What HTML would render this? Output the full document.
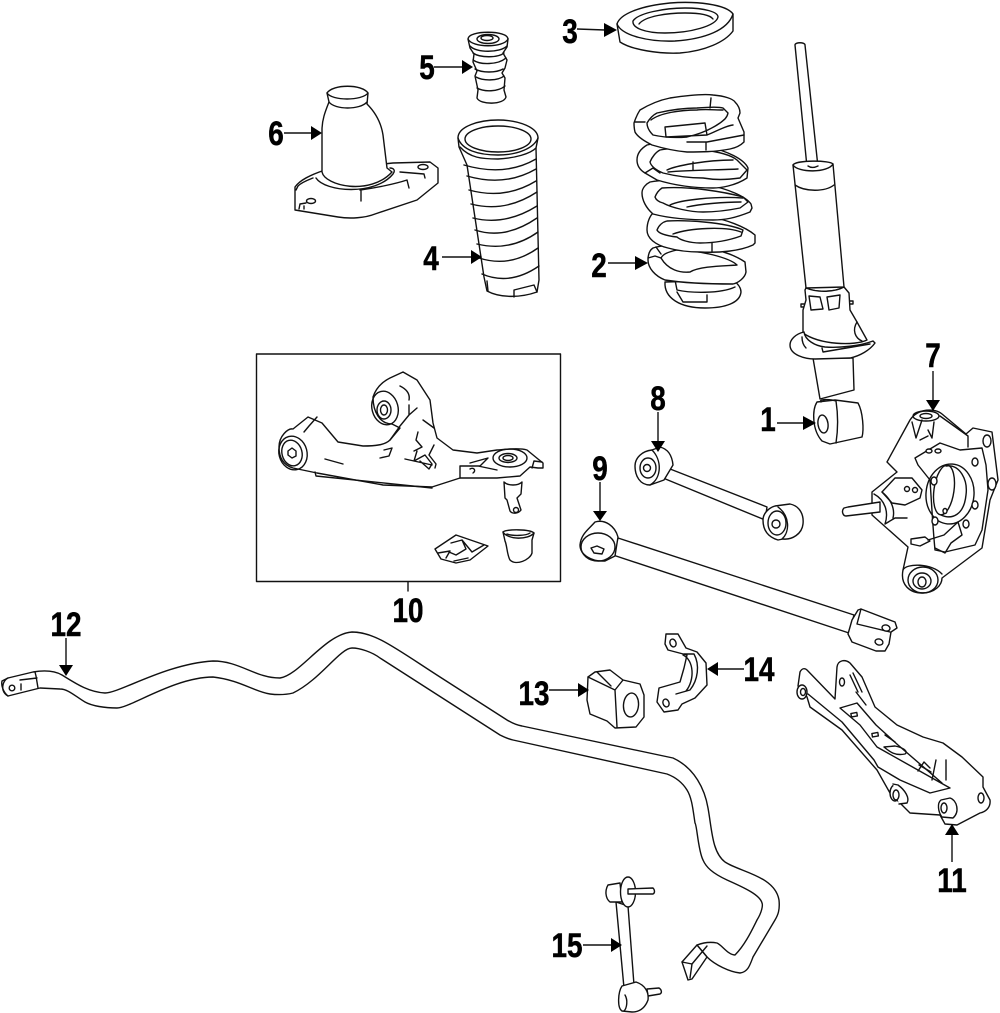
<!DOCTYPE html>
<html><head><meta charset="utf-8"><style>
html,body{margin:0;padding:0;background:#fff}
svg{display:block}
.d path,.d ellipse,.d circle,.d rect,.d polygon{stroke:#111;stroke-width:1.4;fill:#fff;stroke-linejoin:round;stroke-linecap:round}
.d path.n,.d ellipse.n,.d circle.n{fill:none}
.a line{stroke:#111;stroke-width:1.4}
.a polygon{fill:#000}
text{font-family:"Liberation Sans",sans-serif;font-weight:bold;font-size:34px;fill:#000;text-anchor:middle;stroke:#000;stroke-width:.5}
</style></head><body>
<svg width="1000" height="1013" viewBox="0 0 1000 1013" xmlns="http://www.w3.org/2000/svg">
<rect width="1000" height="1013" fill="#fff"/>
<g class="d">
<!-- 3 seat -->
<path d="M617,24 L620,42 C632,50 660,54 680,53 C705,51 725,42 733,31 L733,14 C726,4 695,1 670,3 C640,6 620,14 617,24Z"/>
<path class="n" d="M617,24 C622,36 650,42 675,41 C705,39 728,30 733,14"/>
<path class="n" d="M633,21 C638,13 665,8 685,8 C705,8 718,12 718,17 C716,26 690,33 665,33 C645,33 632,28 633,21Z"/>
<path class="n" d="M639,24 C645,16 668,13 685,13 C700,13 710,15 713,19"/>
<!-- 5 bump stop -->
<path d="M468,39 C468,30 508,30 508,39 L507,47 L503,53 L507,60 L505,68 L502,73 L505,78 L504,90 L506,97 C504,105 480,105 477,98 L478,90 L475,76 L477,71 L473,62 L474,54 L470,48Z"/>
<path class="n" d="M468,39 C472,48 504,48 508,39"/>
<ellipse class="n" cx="488" cy="39" rx="11" ry="4.5"/>
<ellipse class="n" cx="487" cy="38" rx="6" ry="2.5"/>
<path class="n" d="M470,46 C476,53 500,53 507,46"/>
<path class="n" d="M473,53 C480,58 498,58 504,53"/>
<path class="n" d="M473,60 C480,65 498,65 506,58"/>
<path class="n" d="M475,69 C482,73 496,73 503,69"/>
<path class="n" d="M476,77 C483,81 498,81 504,76"/>
<path class="n" d="M477,88 C484,92 498,92 505,86"/>
<!-- 6 boot with flange -->
<path d="M295,187 L295,210 L338,217 C350,219 365,218 375,214 L417,200 L438,183 L438,168 L430,162 L393,163 L325,170 C310,175 300,180 295,187Z"/>
<path class="n" d="M296,190 L298,186 C302,182 308,180 313,178"/>
<path class="n" d="M360,190 C375,188 395,184 407,180 L409,188"/>
<path class="n" d="M361,191 L361,201 M400,172 L424,174 L425,178"/>
<ellipse class="n" cx="423" cy="167" rx="5" ry="2.5"/>
<ellipse class="n" cx="311" cy="201" rx="4.5" ry="2.5"/>
<path class="n" d="M299,209 L300,204 L306,203 M304,209 L304,206"/>
<path d="M322,172 C325,186 370,196 392,172 L387,168 L383,135 C381,122 375,112 367,104 L368,93 C362,84 333,84 327,93 L329,102 C325,112 322,120 322,130Z"/>
<path class="n" d="M327,93 C332,101 362,101 368,93"/>
<path class="n" d="M329,102 C335,110 360,110 367,102"/>
<path class="n" d="M316,178 C325,192 375,196 393,174 C396,170 393,168 390,168"/>
<!-- 4 boot -->
<path d="M458,138 C458,126 480,120 498,120 C520,120 538,128 538,138 L536,148 L539,280 L537,292 C520,298 500,298 487,291 L484,277 L467,165 L459,147Z"/>
<ellipse class="n" cx="498" cy="139" rx="33" ry="13"/>
<path class="n" d="M458,138 C462,150 478,155 498,155 C518,155 534,148 538,138"/>
<path class="n" d="M460,147 C470,158 482,159 498,159 C515,158 530,154 536,148"/>
<path class="n" d="M464,165 Q505,177 536,159"/>
<path class="n" d="M467,176 Q505,187 536,169"/>
<path class="n" d="M469,190 Q505,200 536,181"/>
<path class="n" d="M471,204 Q505,213 537,192"/>
<path class="n" d="M473,218 Q505,226 537,206"/>
<path class="n" d="M475,230 Q505,240 537,218"/>
<path class="n" d="M477,244 Q510,252 538,232"/>
<path class="n" d="M479,258 Q510,268 538,248"/>
<path class="n" d="M482,274 Q510,286 539,266"/>
<path class="n" d="M487,281 L488,291 M514,297 L514,290 L534,285 L537,292"/>
<!-- 2 spring (bottom to top) -->
<path d="M665,282 C664,298 680,308 705,308 C725,308 740,303 741,292 C741,287 737,283 733,280Z"/>
<path class="n" d="M675,280 L677,290 C690,293 720,294 735,287 M707,295 L707,302 L683,302 L677,292"/>
<path d="M648,260 C648,254 650,250 653,248 C670,242 720,245 745,262 L746,272 C745,278 738,283 733,284 C720,284 690,284 665,280 C655,276 648,268 648,260Z"/>
<path d="M661,258 C663,254 668,252 677,250 C700,250 730,258 737,265 C725,266 700,266 690,272 C680,273 668,270 661,258Z"/>
<path class="n" d="M648,258 L655,256 L661,258 M656,247 L661,254"/>
<path d="M647,230 C647,222 650,216 653,213 C680,208 735,218 755,235 L755,243 L753,245 C740,251 720,253 700,252 C685,252 675,250 668,248 C655,245 647,238 647,230Z"/>
<path d="M657,230 C659,225 663,222 667,221 C685,220 725,222 743,230 L741,236 C730,240 715,243 700,243 C690,243 680,240 677,237 C668,236 659,234 657,230Z"/>
<path class="n" d="M673,234 C690,228 725,226 741,232 M712,243 L712,252"/>
<path d="M642,193 C642,188 646,184 650,182 C680,176 740,188 751,204 L752,208 L750,212 C735,218 725,220 713,220 C690,220 668,218 653,214 C646,208 642,200 642,193Z"/>
<path d="M655,197 C657,192 659,190 662,188 C690,186 725,192 743,197 L748,202 L740,208 C725,211 715,212 703,212 C690,212 672,208 663,203 C659,202 656,200 655,197Z"/>
<path class="n" d="M670,205 C680,200 715,196 743,198 M687,207 C700,204 725,202 741,202"/>
<path d="M637,160 C637,153 642,148 647,145 C680,136 740,150 748,168 L747,178 C735,186 720,188 713,188 C690,188 670,184 657,180 L645,173 C640,170 637,166 637,160Z"/>
<path d="M650,162 C652,157 656,152 660,150 C680,146 725,150 737,160 L747,170 L740,178 C725,180 715,180 703,178 C690,178 675,176 663,173 C656,170 651,166 650,162Z"/>
<path class="n" d="M667,170 C675,166 705,160 733,160 M668,172 C690,170 720,170 738,169 M693,162 L693,170 M645,173 L653,168 L660,173"/>
<path d="M634,123 C636,117 638,113 640,110 C650,104 660,100 670,98 C690,95 705,94 713,95 C725,96 733,99 735,102 C739,106 740,110 740,113 L738,118 L744,132 L744,142 C740,146 735,148 730,149 C715,152 700,152 687,152 C675,151 662,148 652,145 C642,140 637,136 635,132 C634,128 634,125 634,123Z"/>
<path d="M647,123 C650,118 653,115 657,113 C670,110 685,108 697,108 C710,107 720,107 723,108 L728,113 C727,118 724,120 720,123 C710,130 700,134 687,137 C675,138 662,137 653,135 C649,131 647,127 647,123Z"/>
<path class="n" d="M651,120 C660,113 680,110 697,110 C705,109 715,110 723,110 M665,127 L705,123 L707,135 L666,137 L665,127 M707,135 C715,132 725,126 733,125 M711,98 L710,108 M635,122 L645,122 M687,142 L707,142 L744,135 M706,142 L706,150"/>
<!-- 1 shock -->
<path d="M795,45 C795,42 805,42 805,45 L818,167 L807,167Z"/>
<path d="M793,165 C796,160 830,160 833,164 L844,287 L806,288 Z"/>
<path class="n" d="M793,165 C798,173 828,173 833,164"/>
<path class="n" d="M795,185 C805,192 825,192 834,185"/>
<path class="n" d="M808,166 C811,168 814,168 818,166"/>
<path class="n" d="M806,288 C818,293 835,292 844,287"/>
<path class="n" d="M801,304 L805,304 L805,307 L801,307Z M849,301 L853,301 L853,304 L848,304Z"/>
<path d="M805,290 L806,288 C818,293 835,292 844,287 L849,293 L850,310 L857,322 L867,340 C855,346 820,345 803,333 L803,310 L806,300Z"/>
<path class="n" d="M809,296 L820,297 L823,309 L811,310Z M827,297 L840,295 L839,308 L829,310Z"/>
<path class="n" d="M857,322 C852,330 855,338 862,341"/>
<path d="M813,358 L853,358 L854,390 L820,399Z"/>
<path d="M804,332 C795,334 790,340 790,345 C790,355 805,359 815,359 L850,358 C860,356 870,350 875,343 L873,341 C860,346 840,348 825,347 C815,346 805,340 804,332Z"/>
<path class="n" d="M822,348 L823,352 L870,344 M802,337 C802,342 804,346 806,348"/>
<path d="M817,402 L835,400 L858,403 C863,412 864,430 862,437 L830,444 L822,441 C812,430 812,410 817,402Z"/>
<path class="n" d="M821,402 C818,399 830,399 836,401 C838,414 838,430 836,443"/>
<ellipse cx="823" cy="424" rx="5" ry="9" transform="rotate(-8 823 424)"/>
<!-- 7 knuckle -->
<path d="M910,420 L887,462 L897,472 L872,492 L872,515 L908,547 L903,570 C900,585 910,593 922,593 C935,593 942,585 942,578 L982,548 L990,500 L998,480 L992,432 L973,428 L966,434 L942,414 C935,408 918,408 910,420Z"/>
<ellipse class="n" cx="926" cy="416" rx="13" ry="5"/>
<ellipse class="n" cx="926" cy="416" rx="6" ry="2.5"/>
<path class="n" d="M912,422 L916,438 L922,420 M934,422 L932,438 L928,430 M920,440 L928,436 M940,416 L968,436 L968,447"/>
<path d="M915,458 L940,443 L960,450 L982,448 L986,465 L988,490 L982,530 L975,545 L945,552 L935,550 C933,530 932,510 930,480 L918,465Z"/>
<ellipse class="n" cx="950" cy="494" rx="24" ry="30" transform="rotate(5 950 494)"/>
<ellipse class="n" cx="944" cy="490" rx="10" ry="25" transform="rotate(8 944 490)"/>
<path class="n" d="M946,466 C960,464 968,480 966,495 C964,515 952,520 941,515"/>
<ellipse cx="987" cy="441" rx="4" ry="6"/>
<ellipse cx="992" cy="484" rx="4" ry="6"/>
<ellipse cx="975" cy="462" rx="3" ry="4"/>
<ellipse cx="934" cy="481" rx="3" ry="4"/>
<ellipse cx="975" cy="505" rx="3" ry="4"/>
<ellipse cx="945" cy="511" rx="2" ry="2.5"/>
<ellipse cx="966" cy="524" rx="3" ry="4"/>
<ellipse cx="935" cy="521" rx="3" ry="4"/>
<ellipse cx="929" cy="451" rx="3" ry="2"/>
<ellipse cx="938" cy="451" rx="3" ry="2"/>
<path d="M882,492 L895,478 L912,478 L922,490 L920,498 L905,505 L892,503Z"/>
<circle cx="907" cy="489" r="2.5"/><circle cx="915" cy="490" r="2.5"/>
<path d="M844,508 C841,511 843,516 846,516 L880,512 L880,502 L848,507Z"/>
<path class="n" d="M874,494 C885,500 889,512 885,524 L895,518 L907,518 M882,492 C892,500 895,510 893,518"/>
<path class="n" d="M911,539 L925,537 L930,541 L920,546 L911,544Z M928,540 L944,535 L958,522 L962,535 L951,543 L945,553 L935,548"/>
<path class="n" d="M903,570 C906,563 932,563 942,574"/>
<ellipse class="n" cx="923" cy="580" rx="15" ry="13"/>
<ellipse class="n" cx="922" cy="581" rx="9" ry="8"/>
<ellipse class="n" cx="922" cy="582" rx="4" ry="5"/>
<!-- 8 arm -->
<path d="M665,467 L767,507 L765,520 L663,478Z"/>
<path d="M652,450 L660,447 C668,449 672,455 673,465 L664,480 L650,485 C640,485 635,476 635,466 C635,458 642,451 652,450Z"/>
<path class="n" d="M652,450 C662,460 662,478 650,485"/>
<ellipse class="n" cx="648" cy="468" rx="8" ry="10"/>
<circle class="n" cx="647" cy="468" r="3.5"/>
<path d="M775,506 L790,504 C800,506 804,515 803,524 C802,534 792,540 783,539 L778,540 C768,537 763,530 763,520 C763,514 768,508 775,506Z"/>
<path class="n" d="M778,507 C790,516 790,532 782,539"/>
<ellipse class="n" cx="777" cy="523" rx="9" ry="12"/>
<circle class="n" cx="776" cy="524" r="4"/>
<!-- 9 arm -->
<path d="M618,538 L854,615 L849,633 L613,555Z"/>
<path d="M595,522 C605,519 615,526 618,537 L615,556 L605,561 C592,562 580,555 580,545 C581,534 588,530 595,522Z"/>
<ellipse class="n" cx="598" cy="547" rx="17" ry="14"/>
<path class="n" d="M591,548 L597,546 L604,549 L602,554 L594,553Z"/>
<!-- clevis -->
<path d="M858,610 L861,609 L895,622 L897,628 L891,632 L889,644 L885,651 L876,651 L852,642 L848,634 L852,620Z"/>
<path class="n" d="M861,609 L857,624 L890,632"/>
<ellipse cx="886" cy="628" rx="4" ry="3" transform="rotate(15 886 628)"/>
<ellipse cx="879" cy="642" rx="4" ry="3" transform="rotate(15 879 642)"/>
<!-- 14 strap -->
<path d="M666,634 L678,634 L686,648 L697,652 L706,663 L707,685 L695,698 L682,704 L678,710 L664,712 L657,702 L659,688 L680,682 L684,668 L687,655 L668,650 L665,644Z"/>
<ellipse cx="673" cy="643" rx="3" ry="4" transform="rotate(-20 673 643)"/>
<ellipse cx="666" cy="703" rx="3" ry="4" transform="rotate(-20 666 703)"/>
<path class="n" d="M684,654 L694,654 C700,665 698,680 690,690 L676,694 M683,655 C694,660 695,680 686,691"/>
<!-- 13 bushing -->
<path d="M588,677 L595,672 L610,670 L623,680 L640,684 L644,695 L644,717 L636,727 L615,728 L607,721 L590,714 L587,700Z"/>
<path class="n" d="M588,677 L615,690 L623,680 M615,690 L617,727 M597,672 L611,686"/>
<ellipse class="n" cx="631" cy="705" rx="7.5" ry="12"  transform="rotate(5 631 705)"/>
<!-- 11 arm -->
<path d="M800,672 C802,668 805,668 807,670 L835,699 L837,667 C838,660 845,659 850,663 L862,677 L875,707 L897,725 L923,737 L943,743 L962,757 L983,777 L983,787 L990,800 C991,808 985,812 980,813 L957,825 L945,824 L940,815 L910,813 L900,803 L890,793 L877,770 L842,730 L810,707 L807,697 L798,686 L800,672Z"/>
<ellipse cx="802" cy="692" rx="5" ry="7"/>
<ellipse class="n" cx="803" cy="692" rx="2.5" ry="3.5"/>
<path class="n" d="M808,694 L842,722 L874,760 L878,767 L900,780 L930,793 L950,788 L941,783 L877,747 L860,725 L840,708 L857,703 L876,725 L898,745 L942,783"/>
<path class="n" d="M850,675 L858,692 M853,673 L862,692 M856,692 L866,705"/>
<ellipse class="n" cx="842" cy="682" rx="2.5" ry="4"/>
<rect x="851" y="713" width="6" height="3.5" transform="rotate(-10 854 714)"/>
<rect x="872" y="733" width="6" height="3.5" transform="rotate(-10 875 734)"/>
<path class="n" d="M885,735 L895,742 M884,747 L895,746 C905,748 908,752 905,754 C895,756 890,752 884,747"/>
<path class="n" d="M918,771 L924,762 L930,768 M919,765 L931,772 M932,780 L936,760 M946,760 L946,780"/>
<ellipse cx="895" cy="793" rx="5" ry="8"/>
<path d="M893,784 L898,785 C905,790 910,798 907,803 L899,804"/>
<ellipse class="n" cx="896" cy="795" rx="3" ry="5"/>
<path d="M941,800 L950,798 C957,800 960,812 953,818 L942,817 C938,812 937,803 941,800Z"/>
<ellipse class="n" cx="944" cy="808" rx="3" ry="5"/>
<ellipse cx="981" cy="798" rx="3" ry="5"/>
<!-- 12 sway bar -->
<path d="M8,678 L33,672 C45,670 55,671 62,675 C75,683 88,692 105,693 C120,693 165,664 213,661 C240,661 255,678 280,678 C300,675 325,634 352,632 C375,632 395,648 440,677 L507,720 C512,723 516,725 522,726 L673,758 C695,768 705,790 708,808 C712,830 712,852 725,862 C740,872 775,876 779,900 C780,910 778,915 775,920 L753,957 C750,965 748,972 740,973 C730,972 715,965 707,957 L697,945 C705,942 712,942 717,943 C722,945 728,955 735,955 C745,945 752,930 757,920 C762,912 763,905 762,903 C760,895 745,888 727,880 C712,873 706,867 703,860 C698,850 697,825 695,823 C693,810 692,798 687,790 C682,782 675,777 667,774 L513,740 C508,739 504,737 500,735 L380,658 C372,652 360,648 352,648 C340,648 320,680 293,693 C285,695 278,695 270,694 C255,692 240,680 213,677 C175,677 130,708 117,708 C105,708 92,706 85,702 C75,696 68,689 60,689 L40,688 L8,696 C3,692 1,685 2,681Z"/>
<path class="n" d="M8,678 C4,680 2,685 3,690 C4,693 6,695 8,696 M35,672 L36,676 L38,688 M20,680 L37,678 M21,690 L21,684"/>
<circle class="n" cx="12" cy="688" r="2.8"/>
<path d="M697,945 L707,957 L692,979 L688,980 L682,962Z"/>
<path class="n" d="M682,962 L692,964 L707,946 M692,964 L690,978"/>
<!-- 15 link -->
<path d="M616,902 L624,988 L634,985 L628,906Z"/>
<path d="M608,885 L620,883 L622,902 L610,902 C605,898 605,890 608,885Z"/>
<ellipse cx="628" cy="892" rx="7.5" ry="15"/>
<path d="M628,889 L653,888 C655,890 655,893 653,894 L628,894Z"/>
<path d="M647,989 L659,988 C662,990 662,993 660,994 L648,996Z"/>
<path d="M622,986 L636,982 C645,985 649,992 648,1000 C645,1008 640,1012 632,1012 L622,1011 C617,1008 618,992 622,986Z"/>
<path class="n" d="M625,995 C628,1000 627,1008 624,1011"/>
<!-- 10 -->
<rect x="256.5" y="354" width="304" height="227.5" style="fill:none"/>
<path class="n" d="M408,582 L408,591"/>
<path d="M279,447 C279,436 288,428 293,429 L308,417 L322,423 L338,442 L363,446 C375,446 385,445 390,440 L400,428 L392,424 C380,424 373,412 373,397 C376,388 382,382 390,378 L403,372 L417,380 L430,400 L433,423 L437,438 L453,450 L477,453 L497,450 C510,449 520,448 527,450 L538,459 L543,463 L543,468 L538,468 L530,467 L520,476 L497,478 L460,478 L432,487 L383,485 L317,473 L293,468 C283,465 279,457 279,447Z"/>
<ellipse class="n" cx="293" cy="453" rx="14" ry="17" transform="rotate(-15 293 453)"/>
<ellipse class="n" cx="292" cy="453" rx="10" ry="13" transform="rotate(-15 292 453)"/>
<path class="n" d="M288,451 L292,448 L296,451 L296,456 L292,458 L288,455Z"/>
<ellipse class="n" cx="385" cy="408" rx="13" ry="17" transform="rotate(-15 385 408)"/>
<ellipse class="n" cx="384" cy="410" rx="7" ry="9"/>
<ellipse class="n" cx="384" cy="410" rx="3.5" ry="5"/>
<path class="n" d="M400,386 C408,390 410,395 409,400 M409,405 L409,415 L417,408 M423,420 L434,428 M390,440 L400,426 L409,415 M317,417 L309,426 L304,432 M325,459 L343,464 M384,450 L392,448 L389,456 L380,458 M418,432 L416,440 L422,447 L414,451 M417,451 L414,461 L425,455 L432,464 L429,469 L420,461 M434,445 L429,455 L436,464 L435,468 M405,459 L432,465 M315,472 L316,476 L432,488"/>
<path class="n" d="M460,466 L460,478 M460,466 L480,466 L488,458 L470,463 M478,466 L497,470 M470,469 C473,467 477,470 473,473"/>
<ellipse class="n" cx="510" cy="458" rx="17" ry="9"/>
<ellipse class="n" cx="508" cy="458" rx="9" ry="4.5"/>
<ellipse class="n" cx="508" cy="458" rx="5" ry="2.5"/>
<path class="n" d="M532,468 L534,461 L542,462"/>
<path d="M504,482 C508,486 518,486 522,482 L521,494 L517,498 L521,510 C518,514 512,514 510,511 L507,500 L505,498Z"/>
<circle class="n" cx="516" cy="510" r="2.5"/>
<path d="M435,549 L456,535 L488,546 L470,560 L456,563 L441,559Z"/>
<path class="n" d="M438,553 L450,551 L446,558 M451,543 L462,540 L466,549 L456,555 L449,552 M462,540 L472,552 M472,552 L484,545 M454,561 L468,558"/>
<path d="M503,532 C506,529 530,529 534,533 L532,540 L532,553 C530,560 516,566 510,560 C507,555 507,545 505,541Z"/>
<path class="n" d="M503,532 C508,540 528,540 534,533 M507,534 C512,536 526,536 530,533"/>
</g>
<g class="a">
<line x1="777" y1="423" x2="804" y2="423"/><polygon points="803,416 816,423 803,430"/>
<line x1="608" y1="263" x2="636" y2="263"/><polygon points="635,256 648,263 635,270"/>
<line x1="577" y1="29" x2="605" y2="30"/><polygon points="604,23 617,30 604,37"/>
<line x1="442" y1="257" x2="472" y2="257"/><polygon points="471,250 482,257 471,264"/>
<line x1="434" y1="67" x2="463" y2="67"/><polygon points="462,60 473,67 462,74"/>
<line x1="284" y1="133" x2="312" y2="133"/><polygon points="311,126 322,133 311,140"/>
<line x1="933" y1="371" x2="933" y2="401"/><polygon points="926,400 940,400 933,411"/>
<line x1="658" y1="412" x2="658" y2="443"/><polygon points="651,441 665,441 658,452"/>
<line x1="600" y1="482" x2="600" y2="512"/><polygon points="593,511 607,511 600,521"/>
<line x1="952" y1="835" x2="952" y2="862"/><polygon points="945,835 959,835 952,824"/>
<line x1="66" y1="638" x2="66" y2="666"/><polygon points="59,665 73,665 66,676"/>
<line x1="549" y1="690" x2="579" y2="690"/><polygon points="578,683 589,690 578,697"/>
<line x1="717" y1="669" x2="744" y2="669"/><polygon points="718,662 707,669 718,676"/>
<line x1="583" y1="945" x2="612" y2="945"/><polygon points="611,938 622,945 611,952"/>
</g>
<text transform="translate(768,431) scale(.82,1)">1</text>
<text transform="translate(599,277) scale(.82,1)">2</text>
<text transform="translate(570,43) scale(.82,1)">3</text>
<text transform="translate(431,270) scale(.82,1)">4</text>
<text transform="translate(427,79) scale(.82,1)">5</text>
<text transform="translate(276,145) scale(.82,1)">6</text>
<text transform="translate(933,367) scale(.82,1)">7</text>
<text transform="translate(658,410) scale(.82,1)">8</text>
<text transform="translate(600,480) scale(.82,1)">9</text>
<text transform="translate(408,622) scale(.82,1)">10</text>
<text transform="translate(952,892) scale(.82,1)">11</text>
<text transform="translate(66,636) scale(.82,1)">12</text>
<text transform="translate(534,705) scale(.82,1)">13</text>
<text transform="translate(759,681) scale(.82,1)">14</text>
<text transform="translate(567,957) scale(.82,1)">15</text>
</svg>
</body></html>
